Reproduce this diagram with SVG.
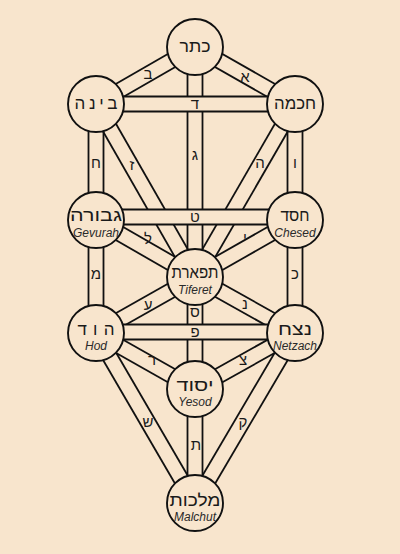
<svg xmlns="http://www.w3.org/2000/svg" width="400" height="554" viewBox="0 0 400 554">
<style>
.ch line{stroke:#111;stroke-width:1.8;fill:none}
.bar{fill:#F8E5CD;stroke:none}
.node circle{fill:#F8E5CD;stroke:#111;stroke-width:1.9}
.heb{font-family:"Liberation Sans","DejaVu Sans",sans-serif;font-size:17px;fill:#1a1a1a;text-anchor:middle}
.eng{font-family:"Liberation Sans","DejaVu Sans",sans-serif;font-size:12px;font-style:italic;fill:#2a2a2a;text-anchor:middle}
.pl{font-family:"Liberation Sans","DejaVu Sans",sans-serif;font-size:15px;fill:#1a1a1a;text-anchor:middle}
</style>
<rect x="0" y="0" width="400" height="554" fill="#F8E5CD"/>
<g id="connectors">
  <g class="ch" id="p-aleph"><line x1="191.29" y1="53.52" x2="291.29" y2="110.52"/><line x1="198.71" y1="40.48" x2="298.71" y2="97.48"/></g>
  <g class="ch" id="p-bet"><line x1="191.26" y1="40.5" x2="92.26" y2="97.5"/><line x1="198.74" y1="53.5" x2="99.74" y2="110.5"/></g>
  <g class="ch" id="p-gimel"><line x1="187.5" y1="47" x2="187.5" y2="277"/><line x1="202.5" y1="47" x2="202.5" y2="277"/></g>
  <g class="ch" id="p-he"><line x1="288.51" y1="100.25" x2="188.51" y2="273.25"/><line x1="301.49" y1="107.75" x2="201.49" y2="280.75"/></g>
  <g class="ch" id="p-vav"><line x1="287.5" y1="104" x2="287.5" y2="220"/><line x1="302.5" y1="104" x2="302.5" y2="220"/></g>
  <g class="ch" id="p-zayin"><line x1="89.49" y1="107.73" x2="188.49" y2="280.73"/><line x1="102.51" y1="100.27" x2="201.51" y2="273.27"/></g>
  <g class="ch" id="p-het"><line x1="88.5" y1="104" x2="88.5" y2="220"/><line x1="103.5" y1="104" x2="103.5" y2="220"/></g>
  <g class="ch" id="p-yod"><line x1="291.29" y1="213.48" x2="191.29" y2="270.48"/><line x1="298.71" y1="226.52" x2="198.71" y2="283.52"/></g>
  <g class="ch" id="p-kaf"><line x1="287.5" y1="220" x2="287.5" y2="333"/><line x1="302.5" y1="220" x2="302.5" y2="333"/></g>
  <g class="ch" id="p-lamed"><line x1="92.26" y1="226.5" x2="191.26" y2="283.5"/><line x1="99.74" y1="213.5" x2="198.74" y2="270.5"/></g>
  <g class="ch" id="p-mem"><line x1="88.5" y1="220" x2="88.5" y2="333"/><line x1="103.5" y1="220" x2="103.5" y2="333"/></g>
  <g class="ch" id="p-nun"><line x1="191.33" y1="283.54" x2="291.33" y2="339.54"/><line x1="198.67" y1="270.46" x2="298.67" y2="326.46"/></g>
  <g class="ch" id="p-samekh"><line x1="187.5" y1="277" x2="187.5" y2="389"/><line x1="202.5" y1="277" x2="202.5" y2="389"/></g>
  <g class="ch" id="p-ayin"><line x1="191.31" y1="270.47" x2="92.31" y2="326.47"/><line x1="198.69" y1="283.53" x2="99.69" y2="339.53"/></g>
  <g class="ch" id="p-tsadi"><line x1="291.33" y1="326.46" x2="191.33" y2="382.46"/><line x1="298.67" y1="339.54" x2="198.67" y2="395.54"/></g>
  <g class="ch" id="p-qof"><line x1="288.53" y1="329.2" x2="188.53" y2="499.2"/><line x1="301.47" y1="336.8" x2="201.47" y2="506.8"/></g>
  <g class="ch" id="p-resh"><line x1="92.31" y1="339.53" x2="191.31" y2="395.53"/><line x1="99.69" y1="326.47" x2="198.69" y2="382.47"/></g>
  <g class="ch" id="p-shin"><line x1="89.52" y1="336.77" x2="188.52" y2="506.77"/><line x1="102.48" y1="329.23" x2="201.48" y2="499.23"/></g>
  <g class="ch" id="p-tav"><line x1="187.5" y1="389" x2="187.5" y2="503"/><line x1="202.5" y1="389" x2="202.5" y2="503"/></g>
  <g class="ch" id="p-dalet"><rect class="bar" x="96" y="96.5" width="199" height="15"/><line x1="96" y1="96.5" x2="295" y2="96.5"/><line x1="96" y1="111.5" x2="295" y2="111.5"/></g>
  <g class="ch" id="p-tet"><rect class="bar" x="96" y="209.5" width="199" height="15"/><line x1="96" y1="209.5" x2="295" y2="209.5"/><line x1="96" y1="224.5" x2="295" y2="224.5"/></g>
  <g class="ch" id="p-pe"><rect class="bar" x="96" y="324.5" width="199" height="15"/><line x1="96" y1="324.5" x2="295" y2="324.5"/><line x1="96" y1="339.5" x2="295" y2="339.5"/></g>
  <g id="path-letters">
    <text class="pl" x="245" y="82">א</text>
    <text class="pl" x="148" y="79">ב</text>
    <text class="pl" x="195" y="160">ג</text>
    <text class="pl" x="195" y="109">ד</text>
    <text class="pl" x="260" y="168">ה</text>
    <text class="pl" x="295" y="168">ו</text>
    <text class="pl" x="132" y="170">ז</text>
    <text class="pl" x="96" y="168">ח</text>
    <text class="pl" x="195" y="222">ט</text>
    <text class="pl" x="245" y="243">י</text>
    <text class="pl" x="295" y="279">כ</text>
    <text class="pl" x="148" y="244">ל</text>
    <text class="pl" x="96" y="279">מ</text>
    <text class="pl" x="245" y="309">נ</text>
    <text class="pl" x="195" y="317">ס</text>
    <text class="pl" x="148" y="310">ע</text>
    <text class="pl" x="195" y="337">פ</text>
    <text class="pl" x="243" y="365">צ</text>
    <text class="pl" x="243" y="427">ק</text>
    <text class="pl" x="152" y="365">ר</text>
    <text class="pl" x="148" y="427">ש</text>
    <text class="pl" x="196" y="450">ת</text>
  </g>
</g>
<g id="kether" class="node"><circle cx="195" cy="47" r="28"/><text class="heb" x="195" y="52" textLength="31" lengthAdjust="spacingAndGlyphs">כתר</text></g>
<g id="binah" class="node"><circle cx="96" cy="104" r="28"/><text class="heb" x="96" y="109" textLength="43" lengthAdjust="spacing">בינה</text></g>
<g id="chokmah" class="node"><circle cx="295" cy="104" r="28"/><text class="heb" x="295" y="109" textLength="42" lengthAdjust="spacingAndGlyphs">חכמה</text></g>
<g id="gevurah" class="node"><circle cx="96" cy="220" r="28"/><text class="heb" x="96" y="221" textLength="52" lengthAdjust="spacingAndGlyphs">גבורה</text><text class="eng" x="96" y="237">Gevurah</text></g>
<g id="chesed" class="node"><circle cx="295" cy="220" r="28"/><text class="heb" x="295" y="221" textLength="29" lengthAdjust="spacingAndGlyphs">חסד</text><text class="eng" x="295" y="237">Chesed</text></g>
<g id="tiferet" class="node"><circle cx="195" cy="277" r="28"/><text class="heb" x="195" y="278" textLength="47" lengthAdjust="spacingAndGlyphs">תפארת</text><text class="eng" x="195" y="294">Tiferet</text></g>
<g id="hod" class="node"><circle cx="96" cy="333" r="28"/><text class="heb" x="96" y="335" textLength="37" lengthAdjust="spacing">הוד</text><text class="eng" x="96" y="350">Hod</text></g>
<g id="netzach" class="node"><circle cx="295" cy="333" r="28"/><text class="heb" x="295" y="335" textLength="34" lengthAdjust="spacingAndGlyphs">נצח</text><text class="eng" x="295" y="350">Netzach</text></g>
<g id="yesod" class="node"><circle cx="195" cy="389" r="28"/><text class="heb" x="195" y="391" textLength="37" lengthAdjust="spacingAndGlyphs">יסוד</text><text class="eng" x="195" y="406">Yesod</text></g>
<g id="malchut" class="node"><circle cx="195" cy="503" r="28"/><text class="heb" x="195" y="506" textLength="51" lengthAdjust="spacingAndGlyphs">מלכות</text><text class="eng" x="195" y="521">Malchut</text></g>
</svg>
